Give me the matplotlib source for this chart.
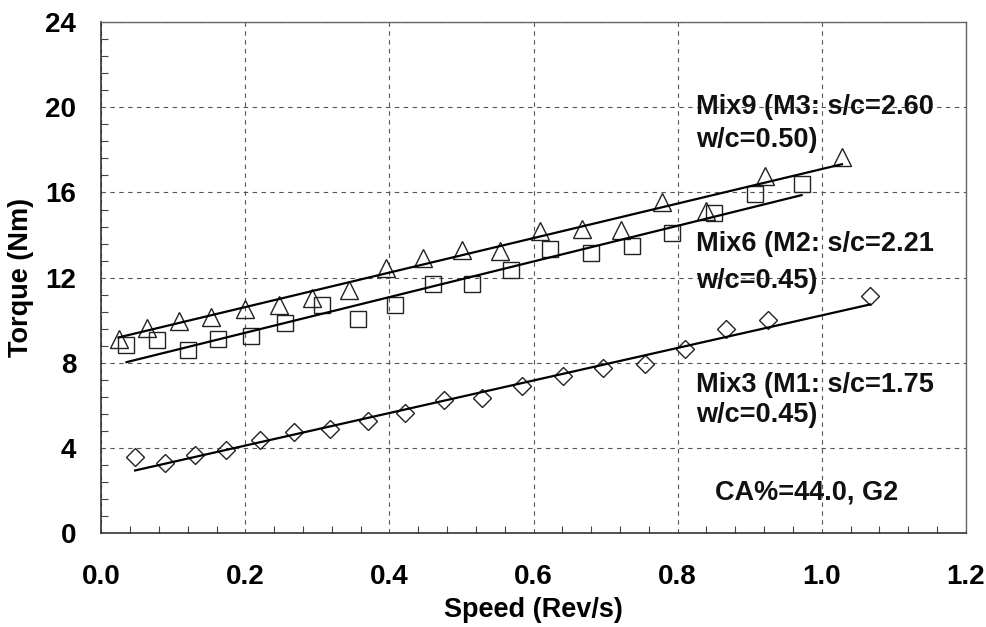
import matplotlib
matplotlib.use("Agg")
import matplotlib.pyplot as plt
import numpy as np
from matplotlib.ticker import MultipleLocator

# Mix9 (triangles)
mix9_speed = [0.024, 0.064, 0.108, 0.152, 0.199, 0.246, 0.293, 0.344, 0.395, 0.447,
              0.500, 0.554, 0.609, 0.667, 0.721, 0.778, 0.839, 0.921, 1.028]
mix9_torque = [9.10, 9.65, 9.96, 10.15, 10.54, 10.70, 11.06, 11.40, 12.47, 12.90,
               13.28, 13.27, 14.19, 14.30, 14.23, 15.56, 15.13, 16.78, 17.65]

# Mix6 (squares)
mix6_speed = [0.035, 0.077, 0.120, 0.162, 0.208, 0.255, 0.306, 0.356, 0.407, 0.460,
              0.514, 0.568, 0.623, 0.680, 0.736, 0.792, 0.851, 0.907, 0.972]
mix6_torque = [8.86, 9.06, 8.60, 9.10, 9.25, 9.85, 10.70, 10.04, 10.70, 11.72,
               11.72, 12.36, 13.36, 13.14, 13.49, 14.08, 15.03, 15.92, 16.39]

# Mix3 (diamonds)
mix3_speed = [0.047, 0.088, 0.130, 0.173, 0.220, 0.268, 0.318, 0.370, 0.421, 0.475,
              0.528, 0.584, 0.641, 0.697, 0.754, 0.810, 0.867, 0.926, 1.067]
mix3_torque = [3.58, 3.32, 3.68, 3.89, 4.39, 4.75, 4.89, 5.28, 5.65, 6.27,
               6.35, 6.90, 7.37, 7.76, 7.97, 8.66, 9.60, 10.00, 11.13]

# fitted lines: (x start, x end, intercept, slope)
fit_mix9 = (0.024, 1.028, 9.00, 8.10)
fit_mix6 = (0.035, 0.972, 7.74, 8.37)
fit_mix3 = (0.047, 1.067, 2.59, 7.64)

labels = [
    ("Mix9 (M3: s/c=2.60", 20.0),
    ("w/c=0.50)", 18.47),
    ("Mix6 (M2: s/c=2.21", 13.57),
    ("w/c=0.45)", 11.83),
    ("Mix3 (M1: s/c=1.75", 6.98),
    ("w/c=0.45)", 5.57),
]

plt.rcParams["font.family"] = ["Liberation Sans", "DejaVu Sans"]

fig = plt.figure(figsize=(9.87, 6.27), dpi=100)
ax = fig.add_axes([0.1026, 0.1495, 0.876, 0.8153])

series = [
    (mix9_speed, mix9_torque, "^", 13, fit_mix9),
    (mix6_speed, mix6_torque, "s", 12, fit_mix6),
    (mix3_speed, mix3_torque, "D", 9, fit_mix3),
]
for xs, ys, mk, ms, fit in series:
    ax.plot(xs, ys, linestyle="none", marker=mk, markersize=ms,
            markerfacecolor="none", markeredgecolor="#222222",
            markeredgewidth=1.0, zorder=3)
    x0, x1, b, m = fit
    fx = np.array([x0, x1])
    ax.plot(fx, b + m * fx, color="black", lw=1.6, zorder=4)

for txt, yv in labels:
    ax.text(0.826, yv, txt, fontsize=19.5, fontweight="bold", va="center",
            ha="left", color="#111111")
ax.text(0.979, 1.9, "CA%=44.0, G2", fontsize=19.5, fontweight="bold",
        va="center", ha="center", color="#111111")

ax.set_xlim(0, 1.2)
ax.set_ylim(0, 24)
ax.xaxis.set_minor_locator(MultipleLocator(0.04))
ax.yaxis.set_major_locator(MultipleLocator(4))
ax.yaxis.set_minor_locator(MultipleLocator(0.8))
xt = np.arange(0, 1.21, 0.2)
ax.set_xticks(xt)
ax.set_xticklabels([f"{v:.1f}" for v in xt])

ax.grid(True, which="major", color="#555555", linestyle=(0, (4, 4)), lw=0.8)
ax.tick_params(which="both", direction="in", top=False, right=False)
ax.tick_params(which="major", length=0, labelsize=20)
ax.tick_params(axis="x", which="major", pad=22)
ax.tick_params(axis="y", which="major", pad=18)
ax.tick_params(which="minor", length=5, width=0.8, color="#444444")
for lab in ax.get_xticklabels() + ax.get_yticklabels():
    lab.set_fontweight("bold")

for side in ["left", "bottom"]:
    ax.spines[side].set_color("#333333")
    ax.spines[side].set_linewidth(1.2)
for side in ["top", "right"]:
    ax.spines[side].set_color("#666666")
    ax.spines[side].set_linewidth(1.0)

ax.set_xlabel("Speed (Rev/s)", fontsize=19.5, fontweight="bold")
ax.set_ylabel("Torque (Nm)", fontsize=19.5, fontweight="bold")
ax.xaxis.set_label_coords(0.5, -0.125)
ax.yaxis.set_label_coords(-0.078, 0.5)

fig.savefig("out.png", dpi=100, facecolor="white")
